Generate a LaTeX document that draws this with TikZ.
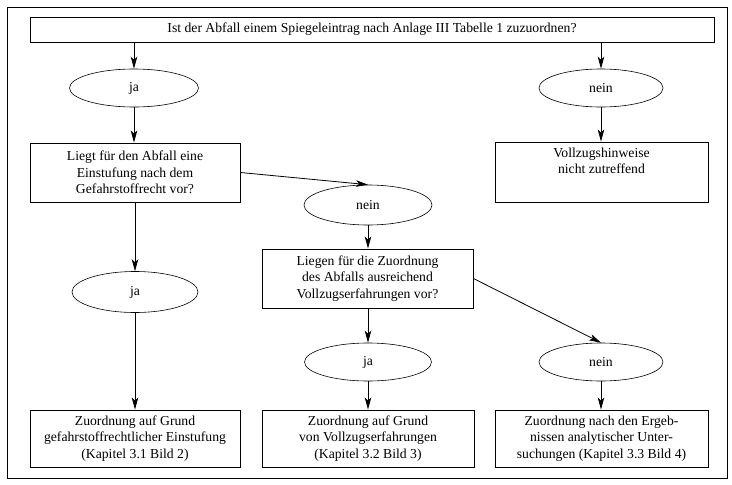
\documentclass[tikz,border=0pt]{standalone}
\usepackage{fontspec}
\setmainfont{Liberation Serif}
\usetikzlibrary{shapes.geometric,arrows.meta}
\begin{document}
\begin{tikzpicture}[x=1pt,y=-1pt,
  every node/.style={font=\fontsize{13.7}{16.5}\selectfont, inner sep=0pt, align=center},
  box/.style={draw, line width=0.9pt, rectangle, minimum height=#1},
  oval/.style={draw, line width=0.6pt, ellipse, minimum height=38pt, minimum width=126pt},
  arr/.style={line width=0.8pt, -{Stealth[length=12pt,width=6.5pt,inset=3pt]}},
  ln/.style={line width=0.8pt}]
\useasboundingbox (0,0) rectangle (732,485);
\draw[line width=0.9pt] (7,7) rectangle (727,478);
\node[box=25pt, minimum width=684pt] (q1) at (372,29.5) {Ist der Abfall einem Spiegeleintrag nach Anlage III Tabelle 1 zuzuordnen?};
\node[oval, minimum width=129pt] (ja1) at (134,88) {ja};
\node[oval, minimum width=124pt] (nein1) at (601,88) {nein};
\node[box=59pt, minimum width=210pt] (q2) at (135,172.5) {Liegt für den Abfall eine\\Einstufung nach dem\\Gefahrstoffrecht vor?};
\node[box=60pt, minimum width=213pt] (hin) at (601.5,172) {};
\node[anchor=north] (hintxt) at ([yshift=-6pt]hin.north) {Vollzugshinweise\\nicht zutreffend};
\node[oval, minimum width=128pt, minimum height=40pt] (nein2) at (368,205) {nein};
\node[box=59pt, minimum width=211pt] (q3) at (367.5,278.5) {Liegen für die Zuordnung\\des Abfalls ausreichend\\Vollzugserfahrungen vor?};
\node[oval, minimum height=41pt] (ja2) at (135,292) {ja};
\node[oval, minimum width=127pt] (ja3) at (368,362) {ja};
\node[oval, minimum width=124pt] (nein3) at (601,362) {nein};
\node[box=57pt, minimum width=210pt] (r1) at (135,438.5) {Zuordnung auf Grund\\gefahrstoffrechtlicher Einstufung\\(Kapitel 3.1 Bild 2)};
\node[box=57pt, minimum width=212pt] (r2) at (368,438.5) {Zuordnung auf Grund\\von Vollzugserfahrungen\\(Kapitel 3.2 Bild 3)};
\node[box=57pt, minimum width=213pt] (r3) at (601.5,438.5) {Zuordnung nach den Ergeb-\\nissen analytischer Unter-\\suchungen (Kapitel 3.3 Bild 4)};
\draw[arr] (q1.south -| ja1) -- (ja1.north);
\draw[arr] (q1.south -| nein1) -- (nein1.north);
\draw[arr] (ja1.south) -- (ja1.south |- q2.north);
\draw[arr] (nein1.south) -- (nein1.south |- hin.north);
\draw[arr] (q2.east) -- (nein2.north);
\draw[arr] (q2.south) -- (ja2.north);
\draw[arr] (nein2.south) -- (nein2.south |- q3.north);
\draw[arr] (ja2.south) -- (ja2.south |- r1.north);
\draw[arr] (q3.south -| ja3) -- (ja3.north);
\draw[arr] (q3.east) -- (nein3.north);
\draw[arr] (ja3.south) -- (ja3.south |- r2.north);
\draw[arr] (nein3.south) -- (nein3.south |- r3.north);
\end{tikzpicture}
\end{document}
